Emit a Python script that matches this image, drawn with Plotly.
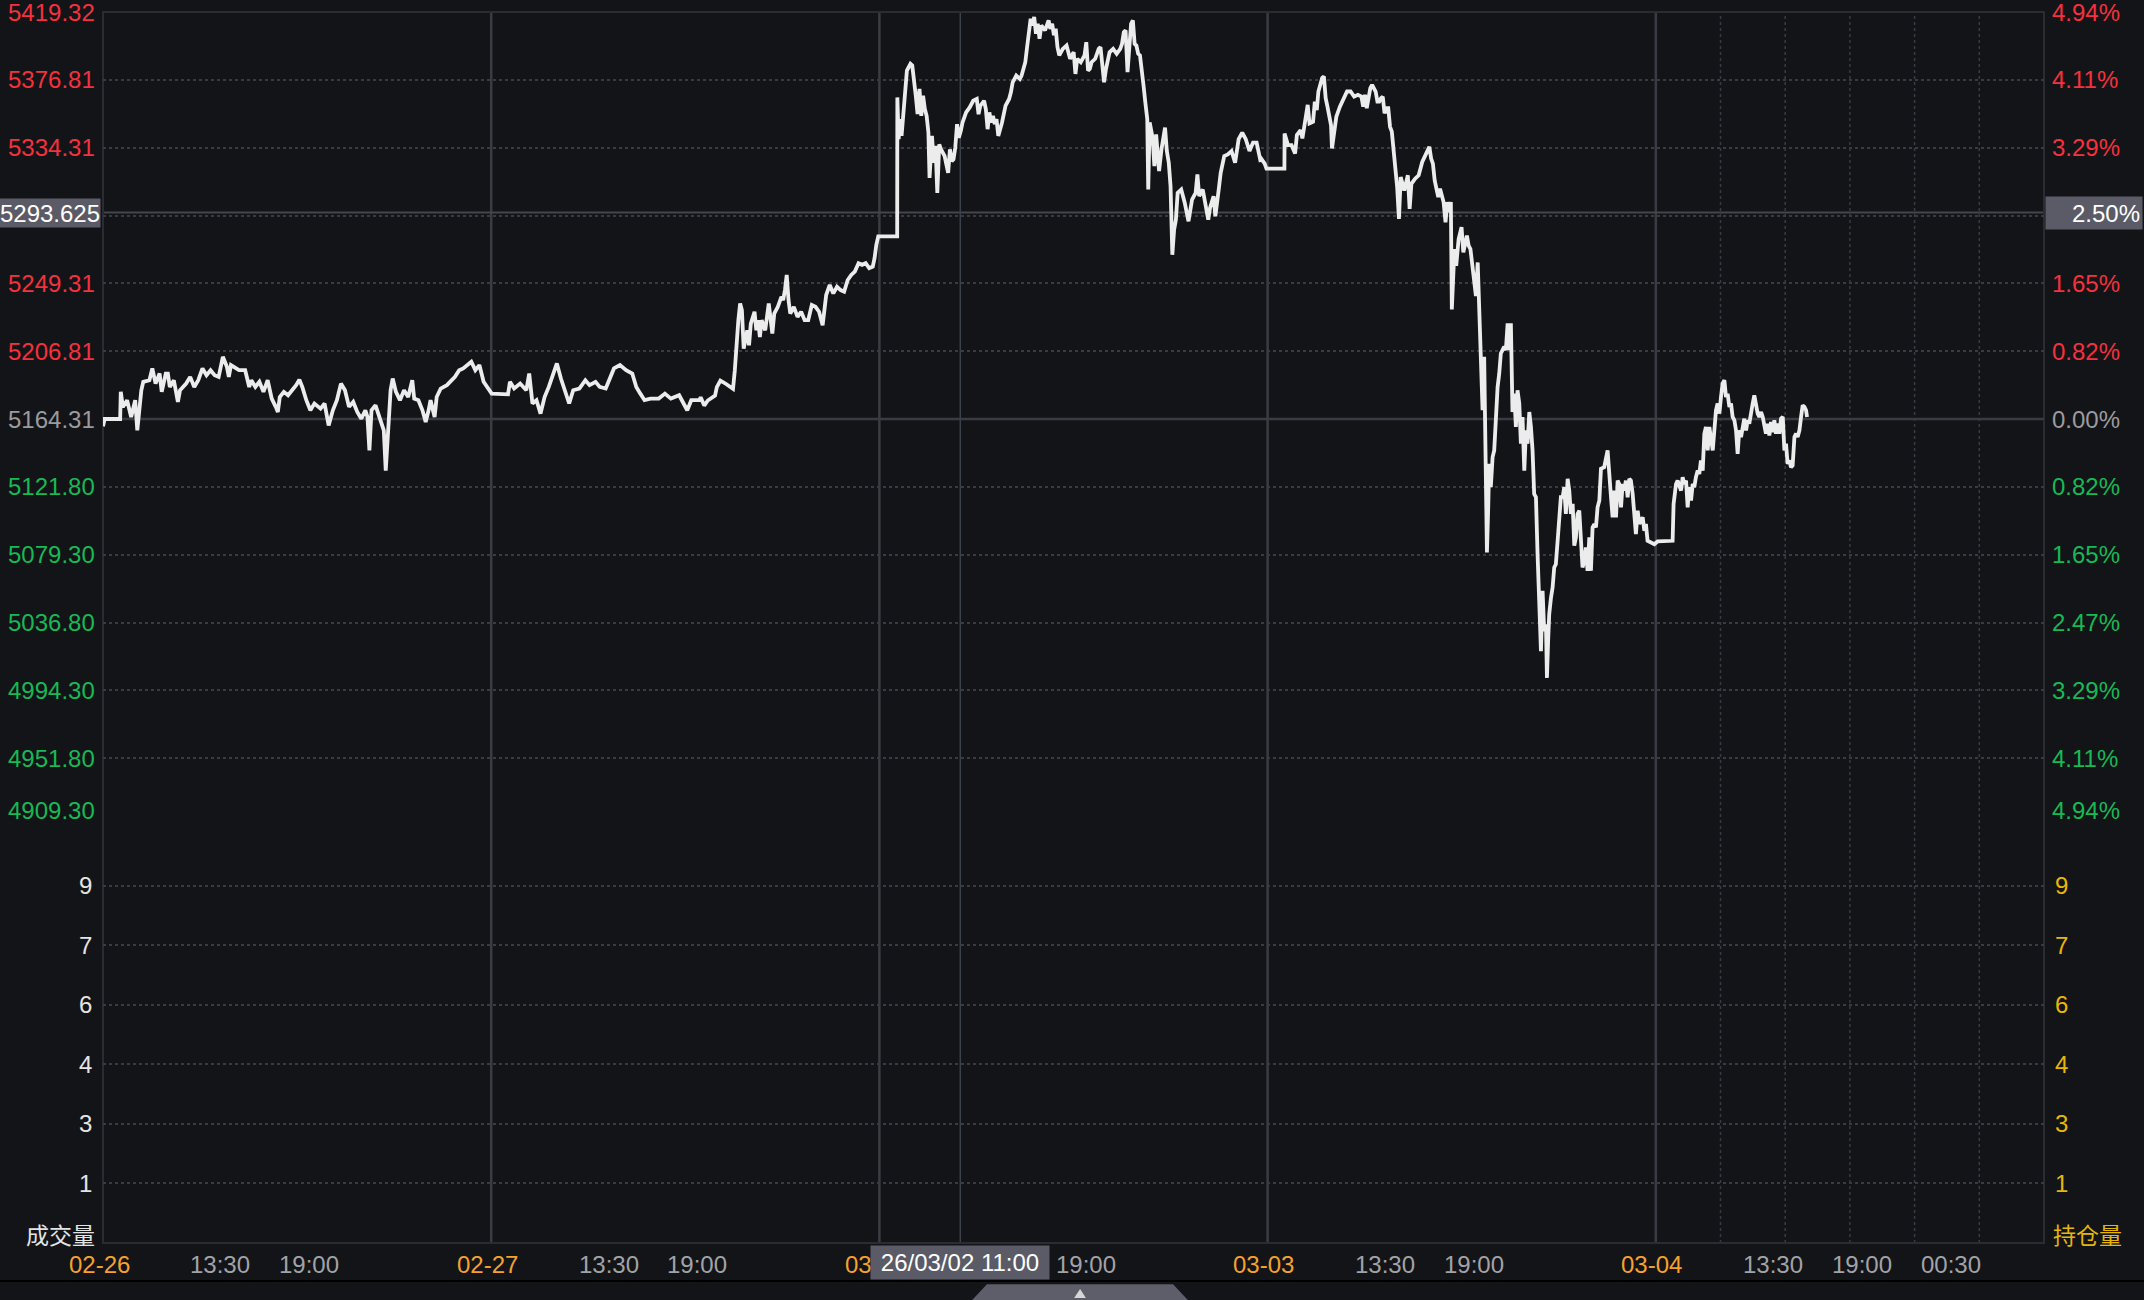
import plotly.graph_objects as go

# ---------------- data ----------------
prev_close = 5164.31
session_dates = ["02-26", "02-27", "03-02", "03-03", "03-04"]

# (hours since 06:00 session open, price)
s0226 = [(0.00,5159.7),(0.10,5164.3),(1.06,5164.3),(1.10,5181.3),(1.23,5171.9),(1.49,5176.1),(1.74,5165.6),(1.99,5176.1),(2.12,5157.2),(2.24,5171.9),(2.37,5182.3),(2.49,5187.6),(2.87,5188.6),(3.05,5196.0),(3.25,5186.5),(3.50,5192.8),(3.63,5181.3),(3.88,5192.8),(4.01,5192.8),(4.13,5184.4),(4.38,5188.6),(4.63,5175.0),(4.76,5182.3),(5.14,5186.5),(5.39,5190.7),(5.64,5184.4),(5.89,5188.6),(6.15,5196.0),(6.40,5191.8),(6.65,5194.9),(6.90,5191.8),(7.15,5190.7),(7.41,5203.3),(7.66,5197.0),(7.78,5190.7),(7.91,5198.1),(8.41,5194.9),(8.79,5194.9),(9.04,5184.4),(9.17,5188.6),(9.42,5184.4),(9.67,5187.6),(9.92,5181.3),(10.18,5188.6),(10.43,5177.1),(10.68,5171.9),(10.81,5168.7),(10.93,5178.1),(11.18,5181.3),(11.44,5179.2),(11.69,5182.3),(11.94,5185.5),(12.14,5189.0),(12.32,5184.4),(12.57,5176.1),(12.82,5169.8),(13.07,5174.0),(13.45,5170.8),(13.70,5174.0),(13.95,5160.3),(14.21,5169.8),(14.46,5176.1),(14.71,5186.5),(14.96,5182.3),(15.21,5171.9),(15.47,5175.0),(15.72,5168.7),(15.97,5164.5),(16.22,5169.8),(16.35,5165.6),(16.47,5144.6),(16.60,5169.8),(16.85,5172.9),(17.10,5165.6),(17.36,5157.2),(17.48,5132.0),(17.61,5157.2),(17.78,5182.3),(17.91,5189.7),(18.11,5181.3),(18.36,5176.1),(18.61,5182.3),(18.87,5178.1),(19.12,5188.6),(19.24,5177.1),(19.50,5176.1),(19.75,5169.8),(19.95,5162.4),(20.13,5169.8),(20.25,5176.1),(20.50,5165.6),(20.63,5178.1),(20.88,5183.4),(21.26,5185.5),(21.76,5190.7),(22.02,5194.9),(22.27,5196.0),(22.77,5200.2),(23.02,5194.9),(23.27,5198.1),(23.53,5187.6),(23.90,5182.3)]

s0227 = [(0.03,5180.2),(1.04,5179.8),(1.16,5187.6),(1.42,5183.4),(1.79,5186.5),(2.17,5182.3),(2.35,5192.8),(2.55,5174.0),(2.80,5176.1),(3.05,5167.7),(3.30,5178.1),(3.56,5184.4),(3.81,5191.8),(4.06,5199.1),(4.31,5189.7),(4.56,5181.3),(4.82,5174.0),(5.07,5182.3),(5.45,5183.4),(5.82,5188.6),(6.08,5185.5),(6.45,5187.6),(6.71,5184.4),(7.08,5183.4),(7.34,5189.7),(7.59,5196.0),(7.96,5198.1),(8.34,5194.9),(8.72,5192.8),(8.97,5184.4),(9.22,5180.2),(9.48,5176.1),(9.85,5177.1),(10.36,5177.1),(10.74,5180.2),(11.11,5177.1),(11.62,5179.2),(12.12,5169.8),(12.37,5176.1),(12.88,5176.1),(12.95,5177.9),(13.17,5172.7),(13.39,5175.9),(13.84,5179.0),(13.95,5184.3),(14.17,5188.4),(14.50,5186.4),(14.95,5183.2),(15.06,5194.7),(15.17,5212.6),(15.28,5226.2),(15.39,5236.7),(15.50,5232.5),(15.61,5208.4),(15.83,5219.9),(15.94,5210.5),(16.05,5224.1),(16.28,5231.5),(16.39,5219.9),(16.50,5226.2),(16.61,5215.7),(16.72,5226.2),(16.94,5219.9),(17.16,5236.7),(17.27,5226.2),(17.38,5217.8),(17.50,5230.4),(17.72,5234.6),(17.94,5240.9),(18.05,5238.8),(18.16,5245.1),(18.27,5254.6),(18.38,5238.8),(18.49,5230.4),(18.71,5234.6),(18.94,5228.3),(19.16,5231.5),(19.38,5226.2),(19.60,5226.2),(19.82,5235.7),(20.05,5234.6),(20.27,5231.5),(20.49,5223.1),(20.60,5234.6),(20.71,5242.0),(20.93,5248.3),(21.15,5243.0),(21.38,5247.2),(21.60,5245.1),(21.82,5244.1),(22.04,5251.4),(22.26,5254.6),(22.48,5256.7),(22.71,5261.9),(22.93,5260.9),(23.15,5261.9),(23.37,5258.8),(23.59,5259.8),(23.70,5265.1),(23.81,5273.5),(23.93,5278.7)]

s0302 = [(1.10,5278.7),(1.11,5365.8),(1.19,5339.6),(1.28,5352.2),(1.37,5341.7),(1.48,5354.3),(1.59,5364.8),(1.70,5382.6),(1.81,5384.7),(1.92,5386.8),(2.03,5385.8),(2.14,5377.4),(2.25,5366.9),(2.36,5355.3),(2.48,5371.1),(2.59,5354.3),(2.70,5366.9),(2.81,5358.5),(2.92,5354.3),(3.03,5343.8),(3.10,5315.4),(3.25,5341.7),(3.36,5324.9),(3.47,5335.4),(3.58,5306.0),(3.70,5336.4),(3.81,5333.3),(4.03,5329.1),(4.25,5318.6),(4.36,5333.3),(4.47,5325.9),(4.58,5327.0),(4.69,5334.3),(4.80,5349.0),(4.91,5340.6),(5.03,5344.8),(5.14,5350.1),(5.36,5356.4),(5.58,5359.5),(5.80,5363.7),(6.02,5364.8),(6.13,5355.3),(6.24,5360.6),(6.47,5363.7),(6.58,5358.5),(6.69,5345.9),(6.80,5356.4),(6.91,5350.1),(7.02,5354.3),(7.13,5349.0),(7.24,5352.2),(7.35,5341.7),(7.58,5350.1),(7.80,5360.6),(8.02,5364.8),(8.13,5369.0),(8.24,5375.3),(8.46,5379.5),(8.68,5377.4),(8.79,5379.5),(8.91,5383.7),(9.02,5387.9),(9.13,5397.3),(9.24,5404.7),(9.35,5415.1),(9.46,5410.9),(9.57,5416.2),(9.68,5405.7),(9.79,5412.0),(9.90,5402.6),(10.01,5410.9),(10.24,5407.8),(10.46,5414.1),(10.57,5408.8),(10.68,5412.0),(10.79,5404.7),(10.90,5408.8),(11.01,5397.3),(11.12,5392.1),(11.34,5396.2),(11.57,5398.3),(11.79,5390.0),(12.01,5394.1),(12.12,5380.5),(12.23,5390.0),(12.45,5387.9),(12.68,5392.1),(12.79,5400.4),(12.90,5382.6),(13.01,5383.7),(13.12,5387.9),(13.34,5390.0),(13.56,5396.2),(13.67,5397.3),(13.78,5385.8),(13.89,5375.3),(14.01,5383.7),(14.12,5387.9),(14.23,5394.1),(14.45,5396.2),(14.67,5393.1),(14.89,5396.2),(15.00,5399.4),(15.11,5406.7),(15.22,5407.8),(15.34,5381.6),(15.45,5400.4),(15.56,5412.0),(15.67,5414.1),(15.78,5399.4),(15.89,5398.3),(16.00,5393.1),(16.11,5392.1),(16.22,5379.5),(16.33,5373.2),(16.44,5362.7),(16.56,5352.2),(16.62,5308.1),(16.71,5350.1),(16.89,5340.6),(17.00,5322.8),(17.11,5342.7),(17.29,5319.6),(17.44,5333.3),(17.66,5346.9),(17.77,5332.2),(17.89,5324.9),(18.00,5310.2),(18.11,5267.2),(18.22,5282.9),(18.33,5289.2),(18.44,5306.0),(18.66,5308.1),(18.88,5299.7),(19.11,5288.2),(19.33,5301.8),(19.55,5306.0),(19.66,5317.5),(19.77,5303.9),(19.99,5308.1),(20.21,5297.6),(20.33,5289.2),(20.44,5296.6),(20.66,5303.9),(20.77,5291.3),(20.88,5298.7),(20.99,5309.1),(21.10,5318.6),(21.32,5329.1),(21.54,5330.1),(21.77,5332.2),(21.99,5324.9),(22.21,5339.6),(22.43,5343.8),(22.65,5339.6),(22.88,5332.2),(23.10,5337.5),(23.32,5337.5),(23.54,5327.0),(23.60,5327.5),(23.82,5324.3),(23.93,5321.2)]

s0303 = [(1.04,5321.2),(1.05,5343.2),(1.26,5335.9),(1.48,5335.9),(1.70,5330.6),(1.81,5342.2),(2.04,5345.3),(2.15,5340.1),(2.37,5354.8),(2.48,5361.1),(2.59,5349.5),(2.81,5350.6),(2.92,5363.2),(3.04,5357.9),(3.14,5369.5),(3.37,5377.9),(3.48,5378.9),(3.59,5365.3),(3.70,5360.0),(3.81,5354.8),(3.92,5348.5),(3.98,5333.8),(4.14,5348.5),(4.25,5353.7),(4.47,5360.0),(4.69,5364.2),(4.91,5369.5),(5.13,5369.5),(5.35,5366.3),(5.58,5367.4),(5.80,5366.3),(5.91,5360.0),(6.02,5367.4),(6.13,5359.0),(6.35,5371.6),(6.46,5373.7),(6.68,5369.5),(6.79,5363.2),(6.90,5363.2),(7.01,5365.3),(7.12,5366.3),(7.23,5355.8),(7.35,5359.0),(7.46,5359.0),(7.57,5347.4),(7.68,5344.3),(7.79,5333.8),(7.90,5321.2),(8.01,5309.6),(8.12,5289.7),(8.23,5315.9),(8.45,5307.5),(8.67,5317.0),(8.78,5296.0),(8.89,5311.7),(9.12,5314.9),(9.34,5317.0),(9.56,5325.4),(9.78,5329.6),(10.00,5334.8),(10.11,5327.5),(10.22,5324.3),(10.33,5313.8),(10.44,5308.6),(10.55,5303.3),(10.66,5308.6),(10.88,5300.2),(11.00,5287.6),(11.11,5300.2),(11.22,5293.9),(11.33,5300.2),(11.39,5233.0),(11.48,5256.1),(11.55,5270.8),(11.66,5260.3),(11.81,5277.1),(11.99,5284.5),(12.10,5268.7),(12.32,5279.2),(12.43,5272.9),(12.54,5270.8),(12.65,5260.3),(12.77,5249.8),(12.88,5241.4),(12.99,5262.4),(13.10,5228.8),(13.21,5207.8),(13.29,5169.8),(13.39,5203.3),(13.49,5123.6),(13.56,5080.7),(13.64,5109.0),(13.70,5136.2),(13.80,5121.6),(13.91,5140.4),(14.01,5144.6),(14.11,5165.6),(14.22,5184.4),(14.32,5192.8),(14.42,5205.4),(14.63,5209.6),(14.73,5207.5),(14.84,5224.3),(14.94,5207.5),(15.04,5224.3),(15.14,5168.7),(15.25,5180.2),(15.35,5159.3),(15.45,5182.3),(15.56,5174.0),(15.66,5148.8),(15.76,5165.6),(15.87,5132.0),(15.97,5157.2),(16.07,5148.8),(16.18,5168.7),(16.28,5159.3),(16.38,5144.6),(16.48,5117.4),(16.59,5115.3),(16.69,5079.6),(16.79,5056.6),(16.90,5018.9),(17.00,5056.6),(17.10,5031.4),(17.21,5035.6),(17.27,5002.1),(17.35,5027.2),(17.41,5041.9),(17.52,5052.4),(17.62,5058.7),(17.72,5071.3),(17.82,5073.3),(17.93,5088.0),(18.03,5102.7),(18.13,5115.3),(18.24,5115.3),(18.34,5121.6),(18.44,5104.8),(18.55,5126.8),(18.65,5119.5),(18.75,5104.8),(18.86,5111.1),(18.96,5084.9),(19.06,5090.1),(19.16,5104.8),(19.27,5106.9),(19.37,5090.1),(19.47,5071.3),(19.58,5075.4),(19.68,5083.8),(19.78,5069.2),(19.89,5090.1),(19.99,5069.2),(20.09,5096.4),(20.20,5098.5),(20.30,5096.4),(20.40,5109.0),(20.51,5113.2),(20.61,5133.1),(20.81,5134.1),(21.02,5144.6),(21.12,5125.7),(21.23,5115.3),(21.33,5102.7),(21.43,5119.5),(21.54,5102.7),(21.64,5125.7),(21.74,5123.6),(21.85,5109.0),(21.95,5123.6),(22.05,5119.5),(22.15,5125.7),(22.26,5115.3),(22.36,5126.8),(22.46,5125.7),(22.57,5117.4),(22.67,5106.9),(22.77,5092.2),(22.88,5106.9),(22.98,5098.5),(23.08,5100.6),(23.19,5102.7),(23.29,5094.3),(23.39,5098.5),(23.49,5088.0),(23.70,5087.0),(23.91,5085.9)]

s0304 = [(0.11,5087.6),(1.04,5088.0),(1.10,5111.1),(1.25,5123.6),(1.35,5125.7),(1.56,5119.5),(1.66,5127.8),(1.76,5123.6),(1.87,5125.7),(1.97,5109.0),(2.07,5121.6),(2.18,5113.2),(2.28,5123.6),(2.38,5121.6),(2.48,5127.8),(2.59,5132.0),(2.69,5129.9),(2.79,5138.3),(2.90,5132.0),(3.00,5155.1),(3.10,5159.3),(3.21,5144.6),(3.31,5159.3),(3.41,5153.0),(3.52,5144.6),(3.62,5157.2),(3.72,5169.8),(3.82,5174.0),(3.93,5167.7),(4.03,5178.1),(4.13,5186.5),(4.24,5188.6),(4.34,5178.1),(4.44,5180.2),(4.55,5171.9),(4.65,5174.0),(4.75,5165.6),(4.86,5163.5),(4.96,5157.2),(5.06,5142.5),(5.16,5157.2),(5.27,5153.0),(5.37,5159.3),(5.47,5164.5),(5.58,5157.2),(5.68,5163.5),(5.78,5161.4),(5.89,5166.6),(5.99,5174.0),(6.09,5179.2),(6.20,5171.9),(6.30,5167.7),(6.40,5165.6),(6.51,5168.7),(6.61,5165.6),(6.71,5161.4),(6.81,5155.1),(6.92,5161.4),(7.02,5154.0),(7.12,5162.4),(7.23,5156.1),(7.33,5163.5),(7.43,5155.1),(7.54,5161.4),(7.64,5155.1),(7.74,5164.5),(7.85,5165.6),(7.95,5144.6),(8.05,5148.8),(8.15,5136.2),(8.26,5138.3),(8.36,5134.1),(8.46,5135.2),(8.57,5153.0),(8.67,5155.1),(8.77,5153.0),(8.88,5157.2),(8.98,5165.6),(9.08,5172.9),(9.19,5171.9),(9.29,5169.8),(9.35,5165.6)]

sessions = [s0226, s0227, s0302, s0303, s0304]

price_ticks = [5419.32, 5376.81, 5334.31, 5291.81, 5249.31, 5206.81, 5164.31,
               5121.80, 5079.30, 5036.80, 4994.30, 4951.80, 4909.30]
price_tick_text = ["5419.32", "5376.81", "5334.31", "5291.81", "5249.31", "5206.81", "5164.31",
                   "5121.80", "5079.30", "5036.80", "4994.30", "4951.80", "4909.30"]
pct_tick_text = ["4.94%", "4.11%", "3.29%", "2.47%", "1.65%", "0.82%", "0.00%",
                 "0.82%", "1.65%", "2.47%", "3.29%", "4.11%", "4.94%"]

vol_range = [0, 10.5]
vol_tick_vals = [9, 7.5, 6, 4.5, 3, 1.5]
vol_tick_text = ["9", "7", "6", "4", "3", "1"]

xtick_hours = [0, 7.5, 13, 24, 31.5, 37, 48, 55.5, 61, 72, 79.5, 85, 96, 103.5, 109, 114.5]
xtick_text = ["02-26", "13:30", "19:00", "02-27", "13:30", "19:00", "03-02", "13:30", "19:00",
              "03-03", "13:30", "19:00", "03-04", "13:30", "19:00", "00:30"]
future_grid_hours = [100, 104, 108, 112, 116]

cross_hour = 53.0
cross_price = 5293.625
cross_price_text = "5293.625"
cross_pct_text = "2.50%"
cross_time_text = "26/03/02 11:00"

# ---------------- styling ----------------
BG = "#131418"
GRID = "#3a3b42"
SEP = "#3b3c43"
BORDER = "#2b2c31"
RED = "#f5313d"
GREEN = "#17b955"
GREY = "#9b9b9e"
ORANGE = "#f5a22d"
TIMEGREY = "#a2a3a7"
GOLD = "#e6b60b"
BOXBG = "#5a5b66"
FONT = "Liberation Sans, Arial, Noto Sans CJK SC, sans-serif"
CJK = "Noto Sans CJK SC, sans-serif"
VOL_FRAC = 417 / 1231

xs, ys = [], []
for i, sess in enumerate(sessions):
    for off, p in sess:
        xs.append(i * 24 + off)
        ys.append(p)

fig = go.Figure()
fig.add_trace(go.Scatter(x=xs, y=ys, mode="lines", line=dict(color="#ececec", width=3.8),
                         xaxis="x", yaxis="y", hoverinfo="skip"))
fig.add_trace(go.Bar(x=[], y=[], xaxis="x2", yaxis="y2"))

shapes = []
for i in range(1, len(session_dates)):
    shapes.append(dict(type="line", xref="x", yref="paper", x0=i * 24, x1=i * 24, y0=0, y1=1,
                       line=dict(color=SEP, width=2.5), layer="below"))
for h in future_grid_hours:
    shapes.append(dict(type="line", xref="x", yref="paper", x0=h, x1=h, y0=0, y1=1,
                       line=dict(color=GRID, width=1.5, dash="dot"), layer="below"))
shapes.append(dict(type="line", xref="paper", yref="y", x0=0, x1=1, y0=prev_close, y1=prev_close,
                   line=dict(color=SEP, width=2.5), layer="below"))
shapes.append(dict(type="line", xref="paper", yref="y", x0=0, x1=1, y0=cross_price, y1=cross_price,
                   line=dict(color="#44454e", width=2), layer="below"))
shapes.append(dict(type="line", xref="x", yref="paper", x0=cross_hour, x1=cross_hour, y0=0, y1=1,
                   line=dict(color="#3c4049", width=1.5), layer="below"))
shapes.append(dict(type="rect", xref="paper", yref="paper", x0=0, x1=1, y0=0, y1=1,
                   line=dict(color=BORDER, width=2), layer="below"))
shapes.append(dict(type="line", xref="paper", yref="paper", x0=-0.06, x1=1.06, y0=-0.0309, y1=-0.0309,
                   line=dict(color="#000000", width=2)))
shapes.append(dict(type="path", xref="paper", yref="paper",
                   path="M 0.4554 -0.0335 L 0.5513 -0.0335 L 0.5611 -0.0500 L 0.4456 -0.0500 Z",
                   fillcolor="#5d5e69", line=dict(width=0)))
shapes.append(dict(type="path", xref="paper", yref="paper",
                   path="M 0.5003 -0.0447 L 0.5064 -0.0447 L 0.5034 -0.0374 Z",
                   fillcolor="#d6d6d6", line=dict(width=0)))

ann = []
lo = min(price_ticks)
for v, t, pt in zip(price_ticks, price_tick_text, pct_tick_text):
    if abs(v - cross_price) < 20:
        continue  # hidden behind the crosshair value boxes
    if abs(v - prev_close) < 0.01:
        c = GREY
    elif v > prev_close:
        c = RED
    else:
        c = GREEN
    ya = "bottom" if v == lo else "middle"
    ann.append(dict(xref="paper", yref="y", x=0, y=v, xanchor="right", yanchor=ya, xshift=-6,
                    text=t, showarrow=False, font=dict(family=FONT, size=24, color=c)))
    ann.append(dict(xref="paper", yref="y", x=1, y=v, xanchor="left", yanchor=ya, xshift=6,
                    text=pt, showarrow=False, font=dict(family=FONT, size=24, color=c)))

for v, t in zip(vol_tick_vals, vol_tick_text):
    ann.append(dict(xref="paper", yref="y2", x=0, y=v, xanchor="right", yanchor="middle", xshift=-9,
                    text=t, showarrow=False, font=dict(family=FONT, size=24, color="#e4e4e4")))
    ann.append(dict(xref="paper", yref="y2", x=1, y=v, xanchor="left", yanchor="middle", xshift=9,
                    text=t, showarrow=False, font=dict(family=FONT, size=24, color=GOLD)))
ann.append(dict(xref="paper", yref="paper", x=0, y=0, xanchor="right", yanchor="middle", xshift=-6, yshift=9,
                text="成交量", showarrow=False, font=dict(family=CJK, size=23, color="#e4e4e4")))
ann.append(dict(xref="paper", yref="paper", x=1, y=0, xanchor="left", yanchor="middle", xshift=7, yshift=9,
                text="持仓量", showarrow=False, font=dict(family=CJK, size=23, color=GOLD)))

for h, t in zip(xtick_hours, xtick_text):
    if t not in session_dates and abs(h - cross_hour) < 5.5:
        continue  # hidden behind the crosshair time box
    c = ORANGE if t in session_dates else TIMEGREY
    ann.append(dict(xref="x", yref="paper", x=h, y=0, xanchor="center", yanchor="middle", xshift=-4,
                    yshift=-21, text=t, showarrow=False, font=dict(family=FONT, size=24, color=c)))

ann.append(dict(xref="paper", yref="y", x=0, y=cross_price, xanchor="right", yanchor="middle", xshift=-2,
                text=cross_price_text, showarrow=False, bgcolor=BOXBG, width=100, height=28, borderpad=0,
                align="center", font=dict(family=FONT, size=24, color="#ffffff")))
ann.append(dict(xref="paper", yref="y", x=1, y=cross_price, xanchor="left", yanchor="middle", xshift=1,
                text=cross_pct_text, showarrow=False, bgcolor=BOXBG, width=92, height=28, borderpad=2,
                align="right", font=dict(family=FONT, size=24, color="#ffffff")))
ann.append(dict(xref="x", yref="paper", x=cross_hour, y=0, xanchor="center", yanchor="top", yshift=-2,
                text=cross_time_text, showarrow=False, bgcolor=BOXBG, width=174, height=29, borderpad=2,
                align="center", font=dict(family=FONT, size=24, color="#ffffff")))

axis_common = dict(zeroline=False, showline=False, ticks="", fixedrange=True)
fig.update_layout(
    width=2144, height=1300,
    margin=dict(l=103, r=100, t=12, b=57, pad=0),
    paper_bgcolor=BG, plot_bgcolor=BG,
    showlegend=False, hovermode=False,
    xaxis=dict(domain=[0, 1], range=[0, 120], anchor="y", showgrid=False, showticklabels=False, **axis_common),
    yaxis=dict(domain=[VOL_FRAC, 1], range=[lo, max(price_ticks)], anchor="x", tickvals=price_ticks,
               showticklabels=False, showgrid=True, gridcolor=GRID, griddash="dot", gridwidth=1.5, **axis_common),
    xaxis2=dict(domain=[0, 1], range=[0, 120], anchor="y2", matches="x", showgrid=False,
                showticklabels=False, **axis_common),
    yaxis2=dict(domain=[0, VOL_FRAC], range=vol_range, anchor="x2", tickvals=vol_tick_vals,
                showticklabels=False, showgrid=True, gridcolor=GRID, griddash="dot", gridwidth=1.5, **axis_common),
    shapes=shapes, annotations=ann,
)

fig.write_html("out.html", config={"displayModeBar": False},
               post_script="document.body.style.margin='0';document.body.style.background='#131418';")
